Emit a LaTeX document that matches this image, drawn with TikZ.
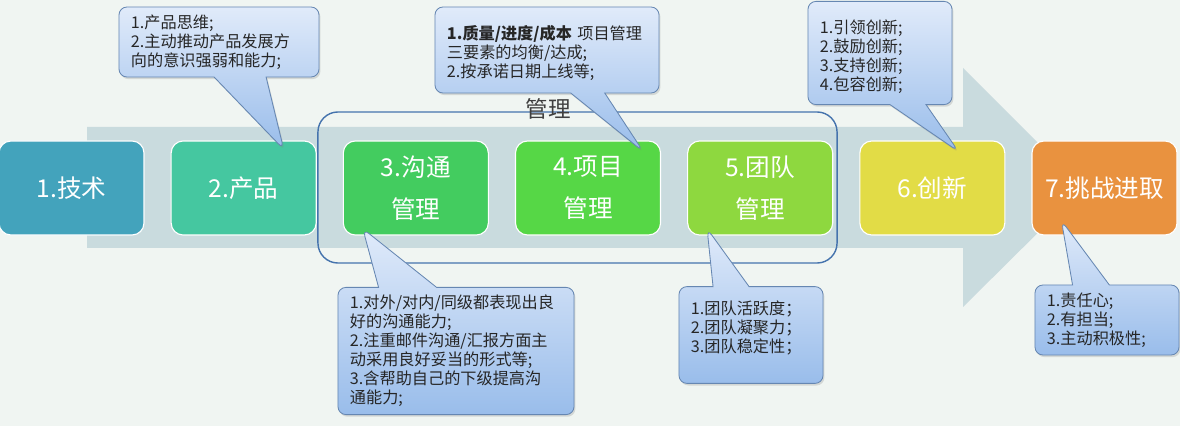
\documentclass[tikz,border=0pt]{standalone}
\usepackage{fontspec}
\newfontfamily\cjk{Noto Sans CJK SC}
\usepackage{tikz}
\usetikzlibrary{positioning, calc, shapes.callouts, shadows}
\definecolor{bgmint}{rgb}{0.94, 0.96, 0.95}
\definecolor{arrowgray}{rgb}{0.79, 0.86, 0.87}
\definecolor{groupblue}{rgb}{0.27, 0.45, 0.68}
\definecolor{noteline}{rgb}{0.40, 0.53, 0.70}
\definecolor{notetop}{rgb}{0.88, 0.92, 0.98}
\definecolor{notebottom}{rgb}{0.60, 0.74, 0.92}
\definecolor{techblue}{HTML}{43A3BC}
\definecolor{prodgreen}{HTML}{45C7A0}
\definecolor{commgreen}{HTML}{43CC5F}
\definecolor{projgreen}{HTML}{56D746}
\definecolor{teamgreen}{HTML}{8ED83F}
\definecolor{innovyellow}{HTML}{E2DC46}
\definecolor{chalorange}{HTML}{E9923F}

\begin{document}
\begin{tikzpicture}[x=0.025cm, y=-0.025cm,
    stage/.style={rectangle, rounded corners=0.3cm, draw=white, line width=0.8pt,
        minimum width=3.625cm, minimum height=2.35cm, text=white, align=center,
        font=\cjk\fontsize{17.5}{30}\selectfont},
    note/.style={rectangle callout, rounded corners=0.2cm, draw=noteline, line width=0.6pt,
        top color=notetop, bottom color=notebottom,
        drop shadow={opacity=0.25, shadow xshift=1pt, shadow yshift=-1.5pt},
        align=left, text=black!85, inner xsep=0.3cm, inner ysep=0.1cm,
        font=\cjk\fontsize{11.5}{13.5}\selectfont},
    node distance=0.65cm]
    \useasboundingbox (0,0) rectangle (1180,426);
    \fill [bgmint] (0,0) rectangle (1180,426);

    % Big arrow
    \fill [arrowgray] (87,127) -- (963,127) -- (963,68) -- (1083,188)
        -- (963,307) -- (963,248) -- (87,248) -- cycle;

    % Management group
    \node [draw=groupblue, line width=1pt, rounded corners=0.5cm,
        minimum width=12.975cm, minimum height=3.775cm] (mgmt) at (577.5,187.5) {};
    \node [font=\cjk\fontsize{16}{16}\selectfont, text=black!75] (mgmtlabel) at (548,109) {管理};

    % Stages
    \node [stage, fill=techblue] (tech) at (71.5,188) {1.技术};
    \node [stage, fill=prodgreen, right=of tech] (prod) {2.产品};
    \node [stage, fill=commgreen, right=of prod] (comm) {3.沟通\\管理};
    \node [stage, fill=projgreen, right=of comm] (proj) {4.项目\\管理};
    \node [stage, fill=teamgreen, right=of proj] (team) {5.团队\\管理};
    \node [stage, fill=innovyellow, right=of team] (innov) {6.创新};
    \node [stage, fill=chalorange, right=of innov] (chal) {7.挑战进取};

    % Callouts above
    \node [note, text width=4.4cm, minimum height=1.75cm, callout pointer width=1.3cm,
        callout absolute pointer={($(prod.north east)+(-33,9)$)}] (prodnote) at (219,42)
        {1.产品思维;\\2.主动推动产品发展方\\向的意识强弱和能力;};
    \node [note, text width=5.0cm, minimum height=2.15cm, callout pointer width=0.85cm,
        text depth=0.9cm,
        callout absolute pointer={($(proj.north east)+(-18,11)$)}] (projnote) at (547,50)
        {\textbf{1.质量/进度/成本} 项目管理\\三要素的均衡/达成;\\2.按承诺日期上线等;};
    \node [note, text width=3.0cm, minimum height=2.58cm, callout pointer width=0.9cm,
        text depth=1.3cm,
        callout absolute pointer={($(innov.north east)+(-47,11)$)}] (innovnote) at (880,53)
        {1.引领创新;\\2.鼓励创新;\\3.支持创新;\\4.包容创新;};

    % Callouts below
    \node [note, text width=5.3cm, minimum height=3.18cm, callout pointer width=1.45cm,
        callout absolute pointer={($(comm.south west)+(20,-7)$)}] (commnote) at (456,351)
        {1.对外/对内/同级都表现出良\\好的沟通能力;\\2.注重邮件沟通/汇报方面主\\动采用良好妥当的形式等;\\3.含帮助自己的下级提高沟\\通能力;};
    \node [note, text width=3.0cm, minimum height=2.42cm, callout pointer width=0.9cm,
        text depth=1.35cm,
        callout absolute pointer={($(team.south west)+(20,-7)$)}] (teamnote) at (751,335)
        {1.团队活跃度；\\2.团队凝聚力；\\3.团队稳定性；};
    \node [note, text width=3.0cm, minimum height=1.75cm, callout pointer width=0.92cm,
        callout absolute pointer={($(chal.south west)+(30,-15)$)}] (chalnote) at (1107,320)
        {1.责任心;\\2.有担当;\\3.主动积极性;};
\end{tikzpicture}
\end{document}
